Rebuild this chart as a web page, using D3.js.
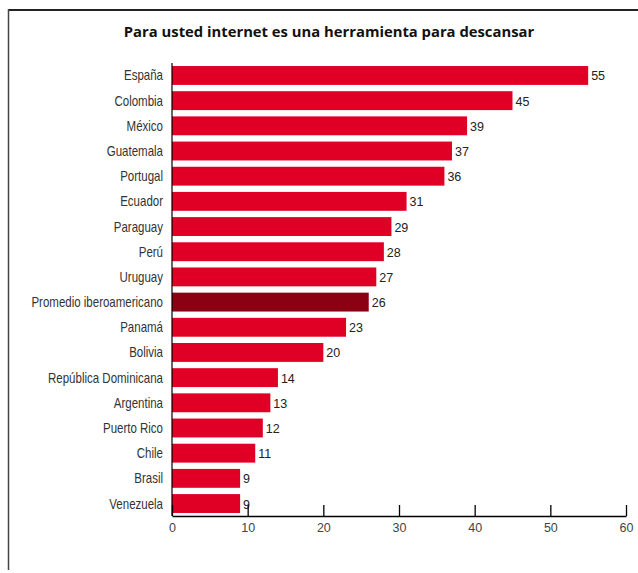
<!DOCTYPE html>
<html><head><meta charset="utf-8">
<script src="https://cdn.jsdelivr.net/npm/d3@7"></script>
<style>body{margin:0;background:#fff}svg{display:block}</style>
</head><body>
<script>
const categories = ["España","Colombia","México","Guatemala","Portugal","Ecuador","Paraguay","Perú","Uruguay","Promedio iberoamericano","Panamá","Bolivia","República Dominicana","Argentina","Puerto Rico","Chile","Brasil","Venezuela"];
const values = [55,45,39,37,36,31,29,28,27,26,23,20,14,13,12,11,9,9];
const highlight = "Promedio iberoamericano";
const xTicks = [0,10,20,30,40,50,60];
const title = "Para usted internet es una herramienta para descansar";

const W = 638, H = 573;
const svg = d3.select("body").append("svg").attr("width", W).attr("height", H);

// frame
svg.append("line").attr("x1",8).attr("x2",W).attr("y1",10).attr("y2",10).attr("stroke","#222").attr("stroke-width",2);
svg.append("line").attr("x1",8.5).attr("x2",8.5).attr("y1",9).attr("y2",570).attr("stroke","#444").attr("stroke-width",1.5);

svg.append("text").attr("x",329).attr("y",37).attr("text-anchor","middle")
  .attr("font-family","'Open Sans', sans-serif").attr("font-weight","bold").attr("font-size",14.8)
  .attr("fill","#111").text(title);

const x = d3.scaleLinear().domain([0,60]).range([172,626]);
const y = d3.scaleBand().domain(categories).range([63,516]).paddingInner(0.25).paddingOuter(0.12);

const data = categories.map((c,i)=>({c, v: values[i]}));

svg.selectAll("rect.bar").data(data).join("rect").attr("class","bar")
  .attr("x", x(0)).attr("y", d=>y(d.c)).attr("width", d=>x(d.v)-x(0)).attr("height", y.bandwidth())
  .attr("fill", d=> d.c===highlight ? "#8c0014" : "#e00025");

svg.selectAll("text.val").data(data).join("text").attr("class","val")
  .attr("x", d=>x(d.v)+3).attr("y", d=>y(d.c)+y.bandwidth()/2+5)
  .attr("font-family","'Liberation Sans', sans-serif").attr("font-size",12.5)
  .attr("fill","#222").text(d=>d.v);

const condense = 0.81;
svg.selectAll("g.cat").data(data).join("g").attr("class","cat")
  .attr("transform", d=>`translate(163,${y(d.c)+y.bandwidth()/2+5}) scale(${condense},1)`)
  .append("text").attr("text-anchor","end")
  .attr("font-family","'Liberation Sans', sans-serif").attr("font-size",14.2)
  .attr("fill","#333").text(d=>d.c);

// y axis line
svg.append("line").attr("x1",x(0)).attr("x2",x(0)).attr("y1",63).attr("y2",516).attr("stroke","#000").attr("stroke-width",1.2);

// x axis
const xa = svg.append("g").attr("transform","translate(0,516)")
  .call(d3.axisBottom(x).tickValues(xTicks).tickSize(-11).tickPadding(7).tickSizeOuter(0));
xa.select(".domain").attr("stroke","#000").attr("stroke-width",1.5);
xa.selectAll(".tick line").attr("stroke","#000").attr("stroke-width",1.3);
xa.selectAll(".tick text").attr("font-family","'Liberation Sans', sans-serif").attr("font-size",12.5).attr("fill","#444");
</script>
</body></html>
